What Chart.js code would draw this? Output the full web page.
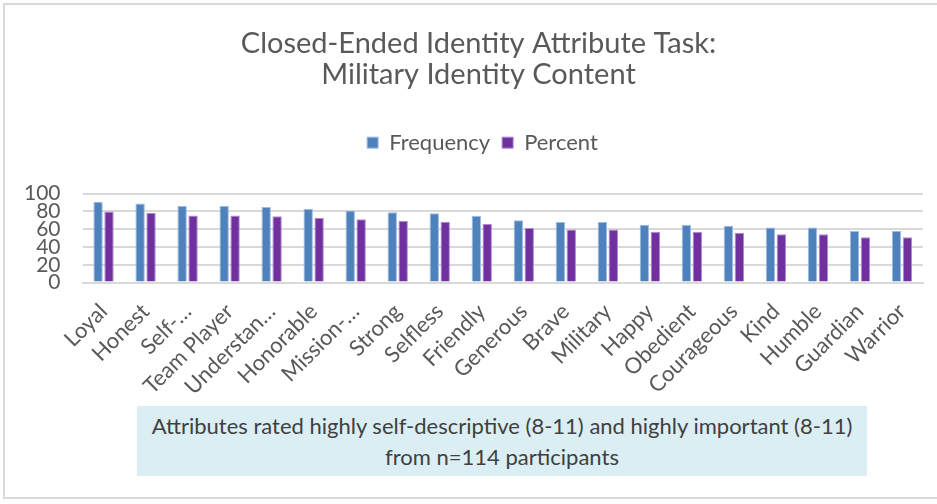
<!DOCTYPE html>
<html>
<head>
<meta charset="utf-8">
<script src="https://cdn.jsdelivr.net/npm/chart.js@4.4.0/dist/chart.umd.min.js"></script>
<style>
    body { margin: 0; background: #fff; overflow: hidden; }
    #frame { position: absolute; left: 3px; top: 3px; width: 940px; height: 496px; border: 2px solid #d9d9d9; box-sizing: border-box; }
    #wrap { position: absolute; left: 0; top: 0; width: 937px; height: 504px; }
    #note { position: absolute; left: 137px; top: 406px; width: 730px; height: 70px; background: #daeef3;
            font-family: Lato, sans-serif; font-size: 22px; color: #404040; text-align: center;
            line-height: 31px; padding-top: 4px; box-sizing: border-box; }
</style>
</head>
<body>
<div id="frame"></div>
<div id="wrap"><canvas id="canvas" width="937" height="504"></canvas></div>
<div id="note">Attributes rated highly self-descriptive (8-11) and highly important (8-11)<br>from n=114 participants</div>
<script>
// attributs (axe x)
const attributes = ["Loyal", "Honest", "Self-…", "Team Player", "Understan…", "Honorable", "Mission-…", "Strong",
    "Selfless", "Friendly", "Generous", "Brave", "Military", "Happy", "Obedient", "Courageous", "Kind",
    "Humble", "Guardian", "Warrior"];
// nombre de participants
const frequency = [91, 89, 86, 86, 85, 83, 81, 79, 78, 75, 70, 68, 68, 65, 65, 64, 62, 62, 58, 58];
// pourcentage sur n=114
const percent = [79.8, 78.1, 75.4, 75.4, 74.6, 72.8, 71.1, 69.3, 68.4, 65.8, 61.4, 59.6, 59.6, 57.0, 57.0, 56.1, 54.4, 54.4, 50.9, 50.9];
const yTicks = [0, 20, 40, 60, 80, 100];

const grey = "#595959";

// marge sous la légende
const legendMargin = {
    id: "legendMargin",
    beforeInit(chart) {
        const fit = chart.legend.fit;
        chart.legend.fit = function () {
            fit.bind(chart.legend)();
            this.height += 30;
        };
    }
};

// titre et légende un peu décalés vers la droite (comme dans Excel)
const shiftHeader = {
    id: "shiftHeader",
    afterLayout(chart) {
        chart.titleBlock.left += 16;
        chart.titleBlock.right += 16;
        chart.legend.left += 20;
        chart.legend.right += 20;
    }
};

new Chart(document.getElementById("canvas"), {
    type: "bar",
    data: {
        labels: attributes,
        datasets: [
            {
                label: "Frequency",
                data: frequency,
                backgroundColor: "#4f81bd",
                borderColor: "#9dbde3",
                borderWidth: 1,
                categoryPercentage: 0.52,
                barPercentage: 0.86
            },
            {
                label: "Percent",
                data: percent,
                backgroundColor: "#7030a0",
                borderColor: "#b08ad0",
                borderWidth: 1,
                categoryPercentage: 0.52,
                barPercentage: 0.86
            }
        ]
    },
    options: {
        responsive: false,
        animation: false,
        layout: { padding: { top: 16, left: 2, right: 14, bottom: 96 } },
        plugins: {
            title: {
                display: true,
                text: ["Closed-Ended Identity Attribute Task:", "Military Identity Content"],
                color: grey,
                font: { family: "Lato", size: 29, weight: "normal", lineHeight: 1.08 },
                padding: { top: 12, bottom: 29 }
            },
            legend: {
                display: true,
                labels: {
                    color: grey,
                    font: { family: "Lato", size: 22 },
                    boxWidth: 11,
                    boxHeight: 11,
                    padding: 12
                }
            },
            tooltip: { enabled: false }
        },
        scales: {
            x: {
                grid: { display: false },
                border: { display: true, color: "#d9d9d9", width: 2 },
                afterFit: (axis) => { axis.paddingLeft = 0; axis.paddingRight = 0; },
                ticks: {
                    color: grey,
                    font: { family: "Lato", size: 22 },
                    autoSkip: false,
                    minRotation: 45,
                    maxRotation: 45,
                    padding: 8
                }
            },
            y: {
                min: 0,
                max: 100,
                afterBuildTicks: (axis) => { axis.ticks = yTicks.map(v => ({ value: v })); },
                grid: { color: "#d9d9d9", lineWidth: 2, drawTicks: false },
                border: { display: false },
                ticks: {
                    color: grey,
                    font: { family: "Lato", size: 21, lineHeight: 0.85 },
                    autoSkip: false,
                    padding: 22
                }
            }
        }
    },
    plugins: [legendMargin, shiftHeader]
});
</script>
</body>
</html>
